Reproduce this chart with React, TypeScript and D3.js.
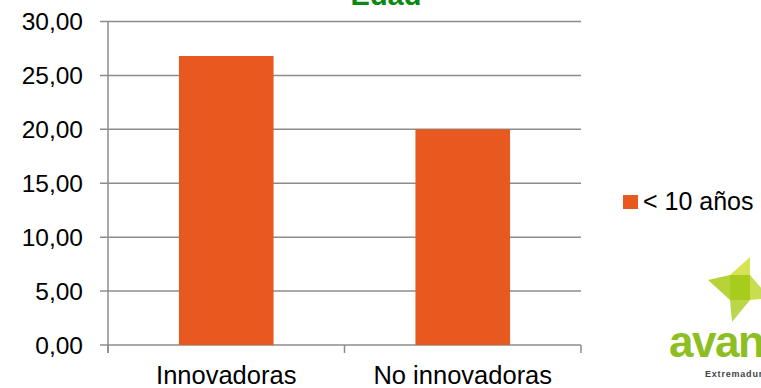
import React from "react";
import * as d3 from "d3";

const categories = ["Innovadoras", "No innovadoras"];
const values = [26.8, 20.0];
const seriesName = "< 10 años";
const yTicks = [0, 5, 10, 15, 20, 25, 30];
const title = "Edad";

export default function App() {
  const W = 761, H = 388;
  const x0 = 108, x1 = 581, yTop = 21.5, yBot = 345;
  const x = d3.scaleBand<string>().domain(categories).range([x0, x1]).paddingInner(0.6).paddingOuter(0.3);
  const y = d3.scaleLinear().domain([0, 30]).range([yBot, yTop]);
  const band = d3.scaleBand<string>().domain(categories).range([x0, x1]);
  const font = "Liberation Sans, Arial, sans-serif";
  const grid = "#8c8c8c";
  const poly = (p: number[][]) => p.map((q) => q.join(",")).join(" ");
  const sq = [[730, 275], [750, 275], [750, 300], [730, 300]];
  return (
    <svg width={W} height={H} style={{ position: "absolute", left: 0, top: 0 }}>
      <rect width={W} height={H} fill="#fff" />
      <text x={386} y={5} textAnchor="middle" fontFamily={font} fontWeight="bold" fontSize={29} fill="#0b8a12">{title}</text>
      {yTicks.map((t) => (
        <g key={t}>
          <line x1={x0 - 8} x2={x1} y1={y(t)} y2={y(t)} stroke={grid} strokeWidth={1.5} />
          <text x={83} y={y(t) + 8.5} textAnchor="end" fontFamily={font} fontSize={24.5} fill="#000">
            {d3.format(".2f")(t).replace(".", ",")}
          </text>
        </g>
      ))}
      <line x1={x0} x2={x0} y1={yTop} y2={yBot + 8} stroke={grid} strokeWidth={1.5} />
      {[x0, band(categories[1])!, x1].map((v, i) => (
        <line key={i} x1={v} x2={v} y1={yBot} y2={yBot + 8} stroke={grid} strokeWidth={1.5} />
      ))}
      {categories.map((c, i) => (
        <rect key={c} x={x(c)} width={x.bandwidth()} y={y(values[i])} height={y(0) - y(values[i])} fill="#e8591f" />
      ))}
      {categories.map((c) => (
        <text key={c} x={band(c)! + band.bandwidth() / 2} y={384} textAnchor="middle" fontFamily={font} fontSize={25.5} fill="#000">{c}</text>
      ))}
      <rect x={623} y={195} width={15} height={14} fill="#e8591f" />
      <text x={643} y={210} fontFamily={font} fontSize={25} fill="#000">{seriesName}</text>
      <g>
        <polygon points={poly(sq)} fill="#a8cc1e" />
        <polygon points={poly([[730, 275], [750, 257], [750, 275]])} fill="#d6e454" />
        <polygon points={poly([[730, 275], [708, 280], [730, 300]])} fill="#b8d33a" />
        <polygon points={poly([[730, 300], [750, 300], [732, 322]])} fill="#bcd64c" />
        <polygon points={poly([[750, 275], [770, 298], [750, 300]])} fill="#c9de4e" />
        <text x={669} y={357} fontFamily={font} fontWeight="bold" fontSize={44} letterSpacing={-1.5} fill="#8dbf25">avante</text>
        <text x={705} y={377} fontFamily={font} fontWeight="bold" fontSize={9} letterSpacing={0.8} fill="#444">Extremadura</text>
      </g>
    </svg>
  );
}
